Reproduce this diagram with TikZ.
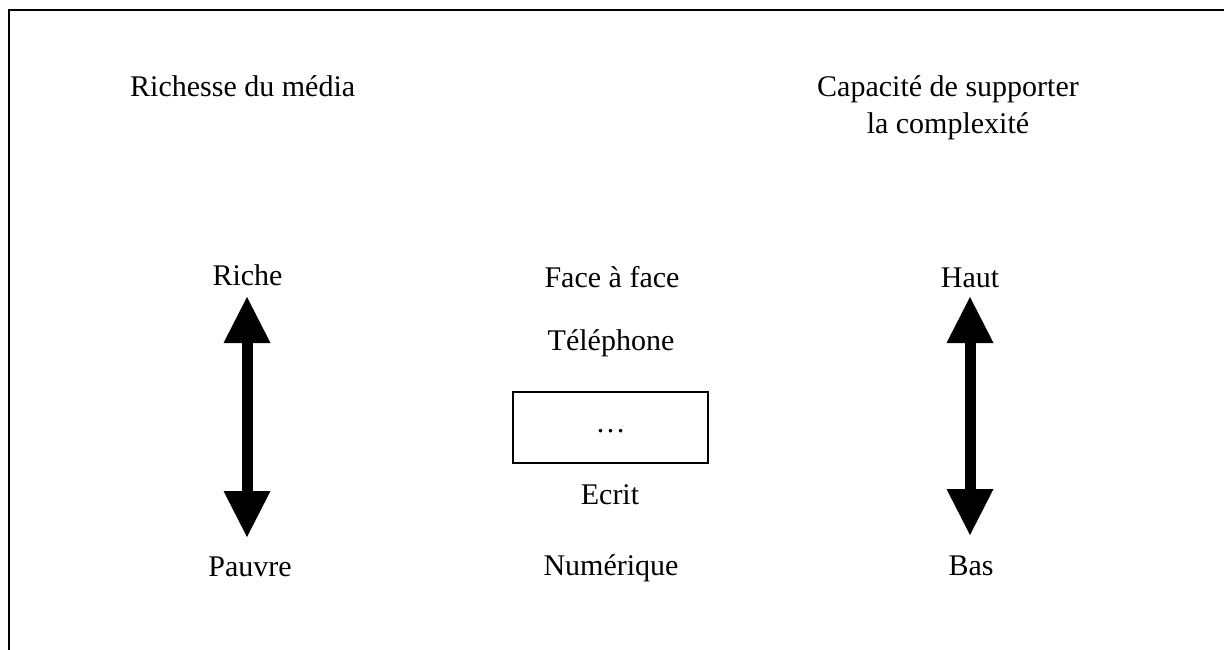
\documentclass[tikz,border=0pt]{standalone}
\usepackage{fontspec}
\setmainfont{Liberation Serif}
\usetikzlibrary{arrows.meta}
\begin{document}
\begin{tikzpicture}[x=1pt,y=-1pt,
  label/.style={anchor=base,inner sep=0pt,font=\fontsize{30}{37}\selectfont},
  media/.style={draw,line width=2pt,minimum width=195pt,minimum height=71pt,
    inner sep=0pt,text height=11pt,font=\fontsize{30}{37}\selectfont},
  scale arrow/.style={line width=11pt,
    {Triangle[width=47pt,length=46pt,line width=0pt]}-{Triangle[width=47pt,length=46pt,line width=0pt]}}]
  \useasboundingbox (0,0) rectangle (1224,650);
  % open frame: left and top edges only
  \draw[line width=2pt] (8.5,650) -- (8.5,10.5) -- (1224,10.5);

  % headings
  \node[label,anchor=base west] (richesse) at (130,97) {Richesse du média};
  \node[label,align=center,anchor=north] (capacite) at (948,75) {Capacité de supporter\\la complexité};

  % left scale
  \node[label] (riche) at (247.5,285) {Riche};
  \node[label] (pauvre) at (250,576) {Pauvre};
  \coordinate (lt) at (247,297);
  \coordinate (lb) at (247,537);
  \draw[scale arrow] (lt) -- (lb);

  % media list
  \node[label] (face) at (612,287) {Face à face};
  \node[label] (tel) at (611,350) {Téléphone};
  \node[media] (autres) at (610.5,427.5) {\ldots};
  \node[label] (ecrit) at (610,504) {Ecrit};
  \node[label] (num) at (611,575) {Numérique};

  % right scale
  \node[label] (haut) at (970,287) {Haut};
  \node[label] (bas) at (971,575) {Bas};
  \coordinate (rt) at (970,297);
  \coordinate (rb) at (970,535);
  \draw[scale arrow] (rt) -- (rb);
\end{tikzpicture}
\end{document}
